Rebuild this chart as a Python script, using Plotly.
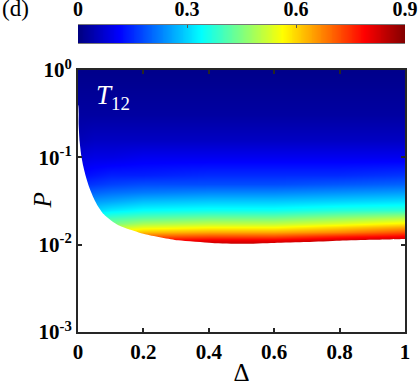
import numpy as np
import plotly.graph_objects as go

# grid of Delta (columns) and log10(P) (rows), values of T12
delta = [0.0, 0.05, 0.1, 0.2, 0.4, 0.6, 0.8, 1.0]
log_p = [-3.0, -2.1, -2.0, -1.95, -1.9, -1.85, -1.8, -1.75, -1.7,
         -1.6, -1.5, -1.4, -1.3, -1.2, -1.0, -0.8, -0.5, 0.0]
t12 = [
    [0.90, 0.90, 0.90, 0.90, 0.90, 0.90, 0.90, 0.90],
    [0.88, 0.89, 0.90, 0.90, 0.90, 0.90, 0.90, 0.90],
    [0.80, 0.82, 0.84, 0.85, 0.86, 0.86, 0.88, 0.90],
    [0.72, 0.74, 0.76, 0.78, 0.80, 0.80, 0.83, 0.86],
    [0.62, 0.64, 0.66, 0.70, 0.72, 0.72, 0.76, 0.79],
    [0.52, 0.54, 0.56, 0.62, 0.64, 0.64, 0.67, 0.72],
    [0.46, 0.48, 0.50, 0.54, 0.56, 0.56, 0.60, 0.64],
    [0.40, 0.42, 0.44, 0.48, 0.50, 0.50, 0.53, 0.57],
    [0.36, 0.38, 0.40, 0.42, 0.44, 0.44, 0.47, 0.50],
    [0.29, 0.30, 0.32, 0.34, 0.35, 0.35, 0.37, 0.38],
    [0.23, 0.25, 0.26, 0.28, 0.29, 0.29, 0.30, 0.31],
    [0.19, 0.20, 0.21, 0.22, 0.23, 0.23, 0.24, 0.25],
    [0.15, 0.16, 0.17, 0.18, 0.18, 0.18, 0.19, 0.20],
    [0.12, 0.13, 0.14, 0.14, 0.15, 0.15, 0.15, 0.16],
    [0.08, 0.09, 0.09, 0.10, 0.10, 0.10, 0.10, 0.10],
    [0.05, 0.06, 0.06, 0.06, 0.06, 0.06, 0.06, 0.06],
    [0.03, 0.03, 0.03, 0.03, 0.03, 0.03, 0.03, 0.03],
    [0.01, 0.01, 0.01, 0.01, 0.01, 0.01, 0.01, 0.01],
]

# lower edge of the region where T12 exists
bound_delta = [0.0, 0.002, 0.005, 0.01, 0.016, 0.024, 0.034, 0.047, 0.061, 0.078,
               0.1, 0.125, 0.153, 0.205, 0.306, 0.41, 0.5, 0.6, 0.7, 0.8, 0.9, 1.0]
bound_log_p = [-0.40, -0.62, -0.82, -0.98, -1.10, -1.22, -1.34, -1.46, -1.56, -1.65,
               -1.72, -1.78, -1.82, -1.88, -1.95, -1.98, -1.99, -1.98, -1.97,
               -1.955, -1.945, -1.935]

cbar_ticks = [0, 0.3, 0.6, 0.9]
p_ticks = [1e-3, 1e-2, 1e-1, 1]
p_ticktext = ["10<sup>-3</sup>", "10<sup>-2</sup>", "10<sup>-1</sup>", "10<sup>0</sup>"]

jet = [[0, "#000080"], [0.125, "#0000ff"], [0.375, "#00ffff"],
       [0.625, "#ffff00"], [0.875, "#ff0000"], [1, "#800000"]]

serif = "Liberation Serif"
axcol = "#262626"

fig = go.Figure()

fig.add_trace(go.Heatmap(
    x=delta, y=[10 ** v for v in log_p], z=t12,
    colorscale=jet, zmin=0, zmax=0.9, zsmooth="best", showscale=False,
))

# blank out the part below the boundary
px = [-0.01] + bound_delta + [1.01, 1.01, -0.01]
py = [10 ** bound_log_p[0]] + [10 ** v for v in bound_log_p] + [10 ** bound_log_p[-1], 1e-4, 1e-4]
fig.add_trace(go.Scatter(
    x=px, y=py, mode="lines", fill="toself", fillcolor="white",
    line=dict(width=0, color="white", shape="spline", smoothing=0.6),
    hoverinfo="skip", showlegend=False,
))

# colour bar drawn as a strip on its own axes
cb = np.round(np.arange(0, 0.901, 0.005), 3)
fig.add_trace(go.Heatmap(
    x=cb, y=[0], z=[cb], colorscale=jet, zmin=0, zmax=0.9,
    zsmooth="best", showscale=False, xaxis="x2", yaxis="y2",
))

tickfont = dict(family=serif, size=21, color="black", weight="bold")

fig.update_layout(
    width=419, height=389,
    margin=dict(l=78, r=14, t=8, b=57),
    paper_bgcolor="white", plot_bgcolor="white",
    xaxis=dict(
        range=[0, 1], domain=[0, 1], tickvals=[0, 0.2, 0.4, 0.6, 0.8, 1],
        ticktext=["0", "0.2", "0.4", "0.6", "0.8", "1"],
        ticks="inside", ticklen=4, tickwidth=2, tickcolor=axcol,
        showline=True, linewidth=2, linecolor=axcol, mirror="ticks",
        showgrid=False, zeroline=False, tickfont=tickfont, automargin=False,
        title=dict(text="Δ", font=dict(family=serif, size=25, color="black"), standoff=0),
    ),
    yaxis=dict(
        type="log", range=[-3, 0], domain=[0, 0.8086],
        tickvals=p_ticks, ticktext=p_ticktext,
        ticks="inside", ticklen=4, tickwidth=2, tickcolor=axcol,
        showline=True, linewidth=2, linecolor=axcol, mirror="ticks",
        showgrid=False, zeroline=False, tickfont=tickfont, automargin=False,
    ),
    xaxis2=dict(
        anchor="y2", domain=[0, 1], range=[0, 0.9], side="top",
        tickvals=cbar_ticks, ticktext=["0", "0.3", "0.6", "0.9"],
        ticks="inside", ticklen=3, tickwidth=1, tickcolor="#555555",
        showline=True, linewidth=1, linecolor="#777777", mirror=True,
        showgrid=False, zeroline=False, automargin=False,
        tickfont=dict(family=serif, size=20, color="black", weight="bold"),
    ),
    yaxis2=dict(
        anchor="x2", domain=[0.892, 0.9475], range=[-0.5, 0.5],
        showticklabels=False, ticks="", showgrid=False, zeroline=False,
        automargin=False,
    ),
    annotations=[
        dict(text="<i>P</i>", x=-51 / 327, y=0.5 * 0.8086, xref="paper", yref="paper",
             textangle=-90, showarrow=False,
             font=dict(family=serif, size=25, color="black")),
        dict(text="<i>T</i><sub>12</sub>", x=0.107, y=-0.31, xref="x", yref="y",
             showarrow=False, font=dict(family=serif, size=27, color="white")),
        dict(text="(d)", x=-78 / 327, y=1.0, xref="paper", yref="paper",
             xanchor="left", yanchor="middle", showarrow=False,
             font=dict(family=serif, size=23, color="black")),
    ],
)

fig.write_html("out.html", config={"displayModeBar": False},
               post_script="document.body.style.margin='0';")
